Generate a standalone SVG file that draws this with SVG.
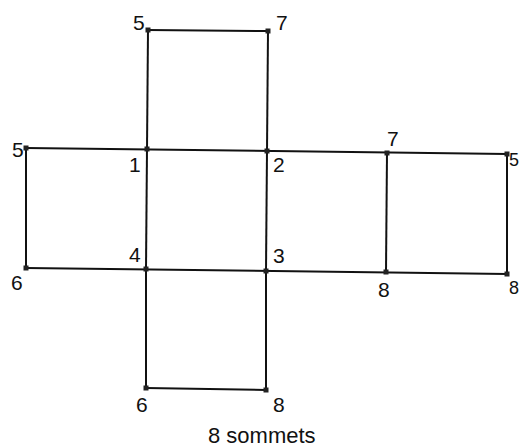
<svg xmlns="http://www.w3.org/2000/svg" width="520" height="447" viewBox="0 0 520 447">
<style>
.e{stroke:#111;stroke-width:2;fill:none}
.v{fill:#222}
text{font-family:"Liberation Sans",Arial,sans-serif;font-size:21px;fill:#111}
.edge{font-size:18px}
</style>
<rect width="520" height="447" fill="#fff"/>
<g id="connectors">
<line class="e" x1="148" y1="30" x2="268" y2="31"/>
<line class="e" x1="148" y1="30" x2="147" y2="149"/>
<line class="e" x1="268" y1="31" x2="267" y2="151"/>
<line class="e" x1="26" y1="148" x2="507" y2="154"/>
<line class="e" x1="26" y1="148" x2="26" y2="268"/>
<line class="e" x1="147" y1="149" x2="146" y2="269"/>
<line class="e" x1="267" y1="151" x2="266" y2="271"/>
<line class="e" x1="387" y1="153" x2="386" y2="272"/>
<line class="e" x1="507" y1="154" x2="507" y2="274"/>
<line class="e" x1="26" y1="268" x2="507" y2="274"/>
<line class="e" x1="146" y1="269" x2="146" y2="388"/>
<line class="e" x1="266" y1="271" x2="266" y2="390"/>
<line class="e" x1="146" y1="388" x2="266" y2="390"/>
</g>
<g id="n-top5"><rect class="v" x="145.500" y="27.500" width="5" height="5"/><text x="133" y="30">5</text></g>
<g id="n-top7"><rect class="v" x="265.500" y="28.500" width="5" height="5"/><text x="276" y="30">7</text></g>
<g id="n-left5"><rect class="v" x="23.500" y="145.500" width="5" height="5"/><text x="12" y="157">5</text></g>
<g id="n-1"><rect class="v" x="144.500" y="146.500" width="5" height="5"/><text x="129" y="172">1</text></g>
<g id="n-2"><rect class="v" x="264.500" y="148.500" width="5" height="5"/><text x="273" y="172">2</text></g>
<g id="n-mid7"><rect class="v" x="384.500" y="150.500" width="5" height="5"/><text x="387" y="146">7</text></g>
<g id="n-right5"><rect class="v" x="504.500" y="151.500" width="5" height="5"/><text class="edge" x="509" y="166">5</text></g>
<g id="n-left6"><rect class="v" x="23.500" y="265.500" width="5" height="5"/><text x="11" y="290">6</text></g>
<g id="n-4"><rect class="v" x="143.500" y="266.500" width="5" height="5"/><text x="129" y="262">4</text></g>
<g id="n-3"><rect class="v" x="263.500" y="268.500" width="5" height="5"/><text x="273" y="263">3</text></g>
<g id="n-mid8"><rect class="v" x="383.500" y="269.500" width="5" height="5"/><text x="378" y="297">8</text></g>
<g id="n-right8"><rect class="v" x="504.500" y="271.500" width="5" height="5"/><text class="edge" x="509" y="294">8</text></g>
<g id="n-bot6"><rect class="v" x="143.500" y="385.500" width="5" height="5"/><text x="136" y="412">6</text></g>
<g id="n-bot8"><rect class="v" x="263.500" y="387.500" width="5" height="5"/><text x="273" y="412">8</text></g>
<text x="208" y="443" style="font-size:22px">8 sommets</text>
</svg>
